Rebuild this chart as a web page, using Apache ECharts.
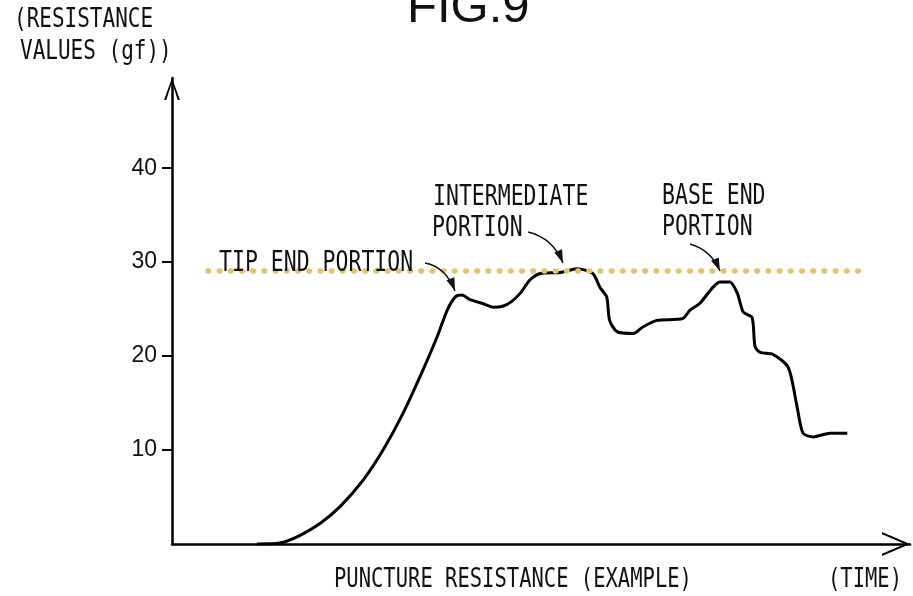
<!DOCTYPE html>
<html>
<head>
<meta charset="utf-8">
<script src="https://cdn.jsdelivr.net/npm/echarts@6/dist/echarts.min.js"></script>
<style>
html,body{margin:0;padding:0;background:#fff;}
#chart{width:913px;height:596px;}
</style>
</head>
<body>
<div id="chart"></div>
<script>
// ---- data ----
const timeValues = [11.5, 14.6, 17.3, 20.1, 22.8, 25.9, 28.6, 31.3, 34.0, 35.9, 37.3, 38.4, 39.3, 40.4, 42.1, 43.6, 44.8, 46.0, 47.2, 48.5, 49.9, 52.6, 54.9, 57.0, 58.0, 58.9, 59.3, 60.3, 62.5, 63.8, 65.7, 69.2, 70.2, 71.5, 74.3, 75.6, 76.6, 77.4, 78.6, 79.0, 79.7, 81.4, 83.5, 84.7, 85.5, 86.9, 89.2, 91.5];
const resistanceValues = [0.0, 0.1, 0.9, 2.2, 4.0, 6.8, 10.0, 13.9, 18.5, 22.0, 24.9, 26.3, 26.5, 26.0, 25.6, 25.2, 25.3, 25.8, 26.7, 28.1, 28.8, 28.9, 29.3, 28.8, 27.3, 26.3, 23.8, 22.6, 22.4, 23.1, 23.8, 24.0, 24.9, 25.6, 27.9, 27.9, 26.7, 24.7, 24.1, 21.0, 20.4, 20.2, 18.8, 14.6, 11.8, 11.4, 11.8, 11.8];
const yTickValues = [10, 20, 30, 40];
const referenceLevel = 29.1;
const referenceSpan = [4.9, 94.2];
const yAxisMax = 49.6;
const xAxisMax = 100;

// ---- texts ----
const figTitle = 'FIG.9';
const yNameLines = ['(RESISTANCE', 'VALUES (gf))'];
const xName = 'PUNCTURE RESISTANCE (EXAMPLE)';
const xUnit = '(TIME)';
const annotationTexts = [['TIP END PORTION'], ['INTERMEDIATE', 'PORTION'], ['BASE END', 'PORTION']];

// ---- layout (pixels) ----
const monoFont = '"DejaVu Sans Mono", "Liberation Mono", monospace';
const textStretch = 1.3;
const labelLayout = [
  [{x: 219, y: 264}],
  [{x: 433, y: 198}, {x: 432, y: 229}],
  [{x: 662, y: 197}, {x: 662, y: 228}]
];
const arrowLayout = [
  {x1: 425, y1: 263, cx: 446, cy: 267, x2: 455, y2: 291},
  {x1: 528, y1: 232, cx: 553, cy: 238, x2: 563, y2: 263},
  {x1: 690, y1: 244, cx: 711, cy: 250, x2: 720, y2: 271}
];

function textEl(text, x, y, size) {
  return {
    type: 'text', x: x, y: y, scaleY: textStretch, z: 20,
    style: {
      text: text, fontSize: size, fontFamily: monoFont, fill: '#111',
      verticalAlign: 'middle', textVerticalAlign: 'middle', align: 'left', textAlign: 'left'
    }
  };
}

const graphics = [];
graphics.push({
  type: 'text', x: 407, y: 8, z: 20,
  style: {text: figTitle, fontSize: 49, fontFamily: '"Liberation Sans", Arial, sans-serif', fill: '#111',
          verticalAlign: 'middle', textVerticalAlign: 'middle', align: 'left', textAlign: 'left'}
});
graphics.push(textEl(yNameLines[0], 14, 20, 21));
graphics.push(textEl(yNameLines[1], 20, 52, 21));
graphics.push(textEl(xName, 334, 580, 20.5));
graphics.push(textEl(xUnit, 828, 580, 20.5));
annotationTexts.forEach(function (lines, i) {
  lines.forEach(function (line, j) {
    const p = labelLayout[i][j];
    graphics.push(textEl(line, p.x, p.y, 21.5));
  });
});
arrowLayout.forEach(function (a) {
  graphics.push({
    type: 'bezierCurve', z: 20,
    shape: {x1: a.x1, y1: a.y1, x2: a.x2, y2: a.y2, cpx1: a.cx, cpy1: a.cy},
    style: {stroke: '#111', lineWidth: 1.4, fill: null}
  });
  const ang = Math.atan2(a.y2 - a.cy, a.x2 - a.cx);
  const len = 13, hw = 4.2;
  const bx = a.x2 - len * Math.cos(ang), by = a.y2 - len * Math.sin(ang);
  const nx = -Math.sin(ang), ny = Math.cos(ang);
  graphics.push({
    type: 'polygon', z: 21,
    shape: {points: [[a.x2, a.y2], [bx + nx * hw, by + ny * hw], [bx - nx * hw, by - ny * hw]]},
    style: {fill: '#111'}
  });
});

const chart = echarts.init(document.getElementById('chart'), null, {renderer: 'canvas'});
chart.setOption({
  animation: false,
  backgroundColor: '#fff',
  grid: {left: 172, right: 3, top: 78, bottom: 52, containLabel: false},
  xAxis: {
    type: 'value', min: 0, max: xAxisMax,
    axisLine: {
      show: true, onZero: false,
      lineStyle: {color: '#000', width: 2.5},
      symbol: ['none', 'path://M0,28L12,0L24,28L21.8,28L12,5L2.2,28Z'],
      symbolSize: [24, 28], symbolOffset: [0, -14]
    },
    axisTick: {show: false}, axisLabel: {show: false}, splitLine: {show: false}
  },
  yAxis: {
    type: 'value', min: 0, max: yAxisMax, interval: 10,
    axisLine: {
      show: true,
      lineStyle: {color: '#000', width: 2.5},
      symbol: ['none', 'path://M0,22L8,0L16,22L13.8,22L8,4.5L2.2,22Z'],
      symbolSize: [16, 22], symbolOffset: [0, -11]
    },
    axisTick: {show: true, length: 10, lineStyle: {color: '#000', width: 2}, customValues: yTickValues},
    axisLabel: {show: true, customValues: yTickValues, color: '#111', fontSize: 23, margin: 15,
                fontFamily: '"Liberation Sans", Arial, sans-serif'},
    splitLine: {show: false}
  },
  series: [{
    type: 'line',
    data: timeValues.map(function (t, i) { return [t, resistanceValues[i]]; }),
    showSymbol: false,
    smooth: 0.25,
    lineStyle: {color: '#000', width: 3},
    z: 3,
    markLine: {
      silent: true, symbol: ['none', 'none'], label: {show: false},
      lineStyle: {color: '#E0C36C', width: 5.5, type: [0.5, 10.7], cap: 'round'},
      data: [[{coord: [referenceSpan[0], referenceLevel]}, {coord: [referenceSpan[1], referenceLevel]}]]
    }
  }],
  graphic: graphics
});
</script>
</body>
</html>
